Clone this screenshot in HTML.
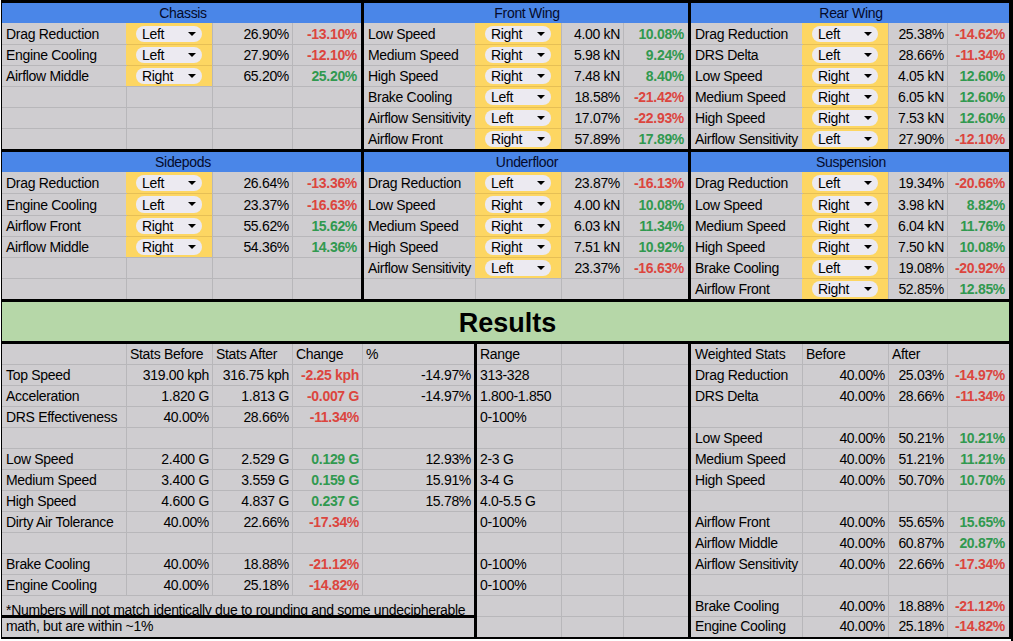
<!DOCTYPE html><html><head><meta charset="utf-8"><style>
*{margin:0;padding:0;box-sizing:border-box}
html,body{width:1013px;height:641px;overflow:hidden;background:#fff}
body{position:relative;font-family:"Liberation Sans", sans-serif;font-size:14px;letter-spacing:-0.31px;color:#000}
.r{position:absolute}
.t{position:absolute;line-height:15px;white-space:nowrap}
.note{position:absolute;line-height:15px;white-space:nowrap;overflow:hidden}
.chip{position:absolute;width:66px;height:16px;border-radius:8px;background:#eceaf1}
.chip span{position:absolute;left:6px;top:1px;line-height:15px}
.chip i{position:absolute;left:52px;top:6px;width:0;height:0;border-left:4px solid transparent;border-right:4px solid transparent;border-top:4.5px solid #000}
</style></head><body>
<div class="r" style="left:2px;top:3px;width:1007px;height:634px;background:#cfcdd0"></div>
<div class="r" style="left:2px;top:3px;width:359px;height:20px;background:#4a86e8"></div>
<div class="t" style="top:6px;color:#050a2a;left:-17px;width:400px;text-align:center;">Chassis</div>
<div class="r" style="left:127px;top:23px;width:85px;height:21px;background:#fdd662"></div>
<div class="r" style="left:127px;top:45px;width:85px;height:20px;background:#fdd662"></div>
<div class="r" style="left:127px;top:66px;width:85px;height:20px;background:#fdd662"></div>
<div class="r" style="left:2px;top:44px;width:359px;height:1px;background:#b8b7ba"></div>
<div class="r" style="left:126px;top:44px;width:86px;height:1px;background:#e6bf55"></div>
<div class="r" style="left:2px;top:65px;width:359px;height:1px;background:#b8b7ba"></div>
<div class="r" style="left:126px;top:65px;width:86px;height:1px;background:#e6bf55"></div>
<div class="r" style="left:2px;top:86px;width:359px;height:1px;background:#b8b7ba"></div>
<div class="r" style="left:2px;top:107px;width:359px;height:1px;background:#b8b7ba"></div>
<div class="r" style="left:2px;top:128px;width:359px;height:1px;background:#b8b7ba"></div>
<div class="r" style="left:126px;top:23px;width:1px;height:126px;background:#b8b7ba"></div>
<div class="r" style="left:212px;top:23px;width:1px;height:126px;background:#b8b7ba"></div>
<div class="r" style="left:292px;top:23px;width:1px;height:126px;background:#b8b7ba"></div>
<div class="r" style="left:126px;top:23px;width:1px;height:21px;background:#fdd662"></div>
<div class="r" style="left:126px;top:45px;width:1px;height:20px;background:#fdd662"></div>
<div class="r" style="left:126px;top:66px;width:1px;height:20px;background:#fdd662"></div>
<div class="t" style="top:27px;color:#000;left:6px;">Drag Reduction</div>
<div class="chip" style="left:136px;top:26px;height:16px"><i style="top:5.7px"></i></div>
<div class="t" style="top:27px;color:#000;left:142px;">Left</div>
<div class="t" style="top:27px;color:#000;right:724px;">26.90%</div>
<div class="t" style="top:27px;color:#dc453e;font-weight:bold;right:656px;">-13.10%</div>
<div class="t" style="top:48px;color:#000;left:6px;">Engine Cooling</div>
<div class="chip" style="left:136px;top:47px;height:16px"><i style="top:5.7px"></i></div>
<div class="t" style="top:48px;color:#000;left:142px;">Left</div>
<div class="t" style="top:48px;color:#000;right:724px;">27.90%</div>
<div class="t" style="top:48px;color:#dc453e;font-weight:bold;right:656px;">-12.10%</div>
<div class="t" style="top:69px;color:#000;left:6px;">Airflow Middle</div>
<div class="chip" style="left:136px;top:68px;height:16px"><i style="top:5.7px"></i></div>
<div class="t" style="top:69px;color:#000;left:142px;">Right</div>
<div class="t" style="top:69px;color:#000;right:724px;">65.20%</div>
<div class="t" style="top:69px;color:#31994f;font-weight:bold;right:656px;">25.20%</div>
<div class="r" style="left:364px;top:3px;width:324px;height:20px;background:#4a86e8"></div>
<div class="t" style="top:6px;color:#050a2a;left:327px;width:400px;text-align:center;">Front Wing</div>
<div class="r" style="left:476px;top:23px;width:85px;height:21px;background:#fdd662"></div>
<div class="r" style="left:476px;top:45px;width:85px;height:20px;background:#fdd662"></div>
<div class="r" style="left:476px;top:66px;width:85px;height:20px;background:#fdd662"></div>
<div class="r" style="left:476px;top:87px;width:85px;height:20px;background:#fdd662"></div>
<div class="r" style="left:476px;top:108px;width:85px;height:20px;background:#fdd662"></div>
<div class="r" style="left:476px;top:129px;width:85px;height:20px;background:#fdd662"></div>
<div class="r" style="left:364px;top:44px;width:324px;height:1px;background:#b8b7ba"></div>
<div class="r" style="left:475px;top:44px;width:86px;height:1px;background:#e6bf55"></div>
<div class="r" style="left:364px;top:65px;width:324px;height:1px;background:#b8b7ba"></div>
<div class="r" style="left:475px;top:65px;width:86px;height:1px;background:#e6bf55"></div>
<div class="r" style="left:364px;top:86px;width:324px;height:1px;background:#b8b7ba"></div>
<div class="r" style="left:475px;top:86px;width:86px;height:1px;background:#e6bf55"></div>
<div class="r" style="left:364px;top:107px;width:324px;height:1px;background:#b8b7ba"></div>
<div class="r" style="left:475px;top:107px;width:86px;height:1px;background:#e6bf55"></div>
<div class="r" style="left:364px;top:128px;width:324px;height:1px;background:#b8b7ba"></div>
<div class="r" style="left:475px;top:128px;width:86px;height:1px;background:#e6bf55"></div>
<div class="r" style="left:475px;top:23px;width:1px;height:126px;background:#b8b7ba"></div>
<div class="r" style="left:561px;top:23px;width:1px;height:126px;background:#b8b7ba"></div>
<div class="r" style="left:623px;top:23px;width:1px;height:126px;background:#b8b7ba"></div>
<div class="r" style="left:475px;top:23px;width:1px;height:21px;background:#fdd662"></div>
<div class="r" style="left:475px;top:45px;width:1px;height:20px;background:#fdd662"></div>
<div class="r" style="left:475px;top:66px;width:1px;height:20px;background:#fdd662"></div>
<div class="r" style="left:475px;top:87px;width:1px;height:20px;background:#fdd662"></div>
<div class="r" style="left:475px;top:108px;width:1px;height:20px;background:#fdd662"></div>
<div class="r" style="left:475px;top:129px;width:1px;height:20px;background:#fdd662"></div>
<div class="t" style="top:27px;color:#000;left:368px;">Low Speed</div>
<div class="chip" style="left:485px;top:26px;height:16px"><i style="top:5.7px"></i></div>
<div class="t" style="top:27px;color:#000;left:491px;">Right</div>
<div class="t" style="top:27px;color:#000;right:393px;">4.00 kN</div>
<div class="t" style="top:27px;color:#31994f;font-weight:bold;right:329px;">10.08%</div>
<div class="t" style="top:48px;color:#000;left:368px;">Medium Speed</div>
<div class="chip" style="left:485px;top:47px;height:16px"><i style="top:5.7px"></i></div>
<div class="t" style="top:48px;color:#000;left:491px;">Right</div>
<div class="t" style="top:48px;color:#000;right:393px;">5.98 kN</div>
<div class="t" style="top:48px;color:#31994f;font-weight:bold;right:329px;">9.24%</div>
<div class="t" style="top:69px;color:#000;left:368px;">High Speed</div>
<div class="chip" style="left:485px;top:68px;height:16px"><i style="top:5.7px"></i></div>
<div class="t" style="top:69px;color:#000;left:491px;">Right</div>
<div class="t" style="top:69px;color:#000;right:393px;">7.48 kN</div>
<div class="t" style="top:69px;color:#31994f;font-weight:bold;right:329px;">8.40%</div>
<div class="t" style="top:90px;color:#000;left:368px;">Brake Cooling</div>
<div class="chip" style="left:485px;top:89px;height:16px"><i style="top:5.7px"></i></div>
<div class="t" style="top:90px;color:#000;left:491px;">Left</div>
<div class="t" style="top:90px;color:#000;right:393px;">18.58%</div>
<div class="t" style="top:90px;color:#dc453e;font-weight:bold;right:329px;">-21.42%</div>
<div class="t" style="top:111px;color:#000;left:368px;">Airflow Sensitivity</div>
<div class="chip" style="left:485px;top:110px;height:16px"><i style="top:5.7px"></i></div>
<div class="t" style="top:111px;color:#000;left:491px;">Left</div>
<div class="t" style="top:111px;color:#000;right:393px;">17.07%</div>
<div class="t" style="top:111px;color:#dc453e;font-weight:bold;right:329px;">-22.93%</div>
<div class="t" style="top:132px;color:#000;left:368px;">Airflow Front</div>
<div class="chip" style="left:485px;top:131px;height:16px"><i style="top:5.7px"></i></div>
<div class="t" style="top:132px;color:#000;left:491px;">Right</div>
<div class="t" style="top:132px;color:#000;right:393px;">57.89%</div>
<div class="t" style="top:132px;color:#31994f;font-weight:bold;right:329px;">17.89%</div>
<div class="r" style="left:691px;top:3px;width:318px;height:20px;background:#4a86e8"></div>
<div class="t" style="top:6px;color:#050a2a;left:651px;width:400px;text-align:center;">Rear Wing</div>
<div class="r" style="left:803px;top:23px;width:85px;height:21px;background:#fdd662"></div>
<div class="r" style="left:803px;top:45px;width:85px;height:20px;background:#fdd662"></div>
<div class="r" style="left:803px;top:66px;width:85px;height:20px;background:#fdd662"></div>
<div class="r" style="left:803px;top:87px;width:85px;height:20px;background:#fdd662"></div>
<div class="r" style="left:803px;top:108px;width:85px;height:20px;background:#fdd662"></div>
<div class="r" style="left:803px;top:129px;width:85px;height:20px;background:#fdd662"></div>
<div class="r" style="left:691px;top:44px;width:318px;height:1px;background:#b8b7ba"></div>
<div class="r" style="left:802px;top:44px;width:86px;height:1px;background:#e6bf55"></div>
<div class="r" style="left:691px;top:65px;width:318px;height:1px;background:#b8b7ba"></div>
<div class="r" style="left:802px;top:65px;width:86px;height:1px;background:#e6bf55"></div>
<div class="r" style="left:691px;top:86px;width:318px;height:1px;background:#b8b7ba"></div>
<div class="r" style="left:802px;top:86px;width:86px;height:1px;background:#e6bf55"></div>
<div class="r" style="left:691px;top:107px;width:318px;height:1px;background:#b8b7ba"></div>
<div class="r" style="left:802px;top:107px;width:86px;height:1px;background:#e6bf55"></div>
<div class="r" style="left:691px;top:128px;width:318px;height:1px;background:#b8b7ba"></div>
<div class="r" style="left:802px;top:128px;width:86px;height:1px;background:#e6bf55"></div>
<div class="r" style="left:802px;top:23px;width:1px;height:126px;background:#b8b7ba"></div>
<div class="r" style="left:888px;top:23px;width:1px;height:126px;background:#b8b7ba"></div>
<div class="r" style="left:947px;top:23px;width:1px;height:126px;background:#b8b7ba"></div>
<div class="r" style="left:802px;top:23px;width:1px;height:21px;background:#fdd662"></div>
<div class="r" style="left:802px;top:45px;width:1px;height:20px;background:#fdd662"></div>
<div class="r" style="left:802px;top:66px;width:1px;height:20px;background:#fdd662"></div>
<div class="r" style="left:802px;top:87px;width:1px;height:20px;background:#fdd662"></div>
<div class="r" style="left:802px;top:108px;width:1px;height:20px;background:#fdd662"></div>
<div class="r" style="left:802px;top:129px;width:1px;height:20px;background:#fdd662"></div>
<div class="t" style="top:27px;color:#000;left:695px;">Drag Reduction</div>
<div class="chip" style="left:812px;top:26px;height:16px"><i style="top:5.7px"></i></div>
<div class="t" style="top:27px;color:#000;left:818px;">Left</div>
<div class="t" style="top:27px;color:#000;right:69px;">25.38%</div>
<div class="t" style="top:27px;color:#dc453e;font-weight:bold;right:8px;">-14.62%</div>
<div class="t" style="top:48px;color:#000;left:695px;">DRS Delta</div>
<div class="chip" style="left:812px;top:47px;height:16px"><i style="top:5.7px"></i></div>
<div class="t" style="top:48px;color:#000;left:818px;">Left</div>
<div class="t" style="top:48px;color:#000;right:69px;">28.66%</div>
<div class="t" style="top:48px;color:#dc453e;font-weight:bold;right:8px;">-11.34%</div>
<div class="t" style="top:69px;color:#000;left:695px;">Low Speed</div>
<div class="chip" style="left:812px;top:68px;height:16px"><i style="top:5.7px"></i></div>
<div class="t" style="top:69px;color:#000;left:818px;">Right</div>
<div class="t" style="top:69px;color:#000;right:69px;">4.05 kN</div>
<div class="t" style="top:69px;color:#31994f;font-weight:bold;right:8px;">12.60%</div>
<div class="t" style="top:90px;color:#000;left:695px;">Medium Speed</div>
<div class="chip" style="left:812px;top:89px;height:16px"><i style="top:5.7px"></i></div>
<div class="t" style="top:90px;color:#000;left:818px;">Right</div>
<div class="t" style="top:90px;color:#000;right:69px;">6.05 kN</div>
<div class="t" style="top:90px;color:#31994f;font-weight:bold;right:8px;">12.60%</div>
<div class="t" style="top:111px;color:#000;left:695px;">High Speed</div>
<div class="chip" style="left:812px;top:110px;height:16px"><i style="top:5.7px"></i></div>
<div class="t" style="top:111px;color:#000;left:818px;">Right</div>
<div class="t" style="top:111px;color:#000;right:69px;">7.53 kN</div>
<div class="t" style="top:111px;color:#31994f;font-weight:bold;right:8px;">12.60%</div>
<div class="t" style="top:132px;color:#000;left:695px;">Airflow Sensitivity</div>
<div class="chip" style="left:812px;top:131px;height:16px"><i style="top:5.7px"></i></div>
<div class="t" style="top:132px;color:#000;left:818px;">Left</div>
<div class="t" style="top:132px;color:#000;right:69px;">27.90%</div>
<div class="t" style="top:132px;color:#dc453e;font-weight:bold;right:8px;">-12.10%</div>
<div class="r" style="left:2px;top:152px;width:359px;height:20px;background:#4a86e8"></div>
<div class="t" style="top:155px;color:#050a2a;left:-17px;width:400px;text-align:center;">Sidepods</div>
<div class="r" style="left:127px;top:172px;width:85px;height:21px;background:#fdd662"></div>
<div class="r" style="left:127px;top:194px;width:85px;height:21px;background:#fdd662"></div>
<div class="r" style="left:127px;top:216px;width:85px;height:20px;background:#fdd662"></div>
<div class="r" style="left:127px;top:237px;width:85px;height:20px;background:#fdd662"></div>
<div class="r" style="left:2px;top:193px;width:359px;height:1px;background:#b8b7ba"></div>
<div class="r" style="left:126px;top:193px;width:86px;height:1px;background:#e6bf55"></div>
<div class="r" style="left:2px;top:215px;width:359px;height:1px;background:#b8b7ba"></div>
<div class="r" style="left:126px;top:215px;width:86px;height:1px;background:#e6bf55"></div>
<div class="r" style="left:2px;top:236px;width:359px;height:1px;background:#b8b7ba"></div>
<div class="r" style="left:126px;top:236px;width:86px;height:1px;background:#e6bf55"></div>
<div class="r" style="left:2px;top:257px;width:359px;height:1px;background:#b8b7ba"></div>
<div class="r" style="left:2px;top:278px;width:359px;height:1px;background:#b8b7ba"></div>
<div class="r" style="left:126px;top:172px;width:1px;height:127px;background:#b8b7ba"></div>
<div class="r" style="left:212px;top:172px;width:1px;height:127px;background:#b8b7ba"></div>
<div class="r" style="left:292px;top:172px;width:1px;height:127px;background:#b8b7ba"></div>
<div class="r" style="left:126px;top:172px;width:1px;height:21px;background:#fdd662"></div>
<div class="r" style="left:126px;top:194px;width:1px;height:21px;background:#fdd662"></div>
<div class="r" style="left:126px;top:216px;width:1px;height:20px;background:#fdd662"></div>
<div class="r" style="left:126px;top:237px;width:1px;height:20px;background:#fdd662"></div>
<div class="t" style="top:176px;color:#000;left:6px;">Drag Reduction</div>
<div class="chip" style="left:136px;top:175px;height:16px"><i style="top:5.7px"></i></div>
<div class="t" style="top:176px;color:#000;left:142px;">Left</div>
<div class="t" style="top:176px;color:#000;right:724px;">26.64%</div>
<div class="t" style="top:176px;color:#dc453e;font-weight:bold;right:656px;">-13.36%</div>
<div class="t" style="top:198px;color:#000;left:6px;">Engine Cooling</div>
<div class="chip" style="left:136px;top:196px;height:17px"><i style="top:6.2px"></i></div>
<div class="t" style="top:198px;color:#000;left:142px;">Left</div>
<div class="t" style="top:198px;color:#000;right:724px;">23.37%</div>
<div class="t" style="top:198px;color:#dc453e;font-weight:bold;right:656px;">-16.63%</div>
<div class="t" style="top:219px;color:#000;left:6px;">Airflow Front</div>
<div class="chip" style="left:136px;top:218px;height:16px"><i style="top:5.7px"></i></div>
<div class="t" style="top:219px;color:#000;left:142px;">Right</div>
<div class="t" style="top:219px;color:#000;right:724px;">55.62%</div>
<div class="t" style="top:219px;color:#31994f;font-weight:bold;right:656px;">15.62%</div>
<div class="t" style="top:240px;color:#000;left:6px;">Airflow Middle</div>
<div class="chip" style="left:136px;top:239px;height:16px"><i style="top:5.7px"></i></div>
<div class="t" style="top:240px;color:#000;left:142px;">Right</div>
<div class="t" style="top:240px;color:#000;right:724px;">54.36%</div>
<div class="t" style="top:240px;color:#31994f;font-weight:bold;right:656px;">14.36%</div>
<div class="r" style="left:364px;top:152px;width:324px;height:20px;background:#4a86e8"></div>
<div class="t" style="top:155px;color:#050a2a;left:327px;width:400px;text-align:center;">Underfloor</div>
<div class="r" style="left:476px;top:172px;width:85px;height:21px;background:#fdd662"></div>
<div class="r" style="left:476px;top:194px;width:85px;height:21px;background:#fdd662"></div>
<div class="r" style="left:476px;top:216px;width:85px;height:20px;background:#fdd662"></div>
<div class="r" style="left:476px;top:237px;width:85px;height:20px;background:#fdd662"></div>
<div class="r" style="left:476px;top:258px;width:85px;height:20px;background:#fdd662"></div>
<div class="r" style="left:364px;top:193px;width:324px;height:1px;background:#b8b7ba"></div>
<div class="r" style="left:475px;top:193px;width:86px;height:1px;background:#e6bf55"></div>
<div class="r" style="left:364px;top:215px;width:324px;height:1px;background:#b8b7ba"></div>
<div class="r" style="left:475px;top:215px;width:86px;height:1px;background:#e6bf55"></div>
<div class="r" style="left:364px;top:236px;width:324px;height:1px;background:#b8b7ba"></div>
<div class="r" style="left:475px;top:236px;width:86px;height:1px;background:#e6bf55"></div>
<div class="r" style="left:364px;top:257px;width:324px;height:1px;background:#b8b7ba"></div>
<div class="r" style="left:475px;top:257px;width:86px;height:1px;background:#e6bf55"></div>
<div class="r" style="left:364px;top:278px;width:324px;height:1px;background:#b8b7ba"></div>
<div class="r" style="left:475px;top:172px;width:1px;height:127px;background:#b8b7ba"></div>
<div class="r" style="left:561px;top:172px;width:1px;height:127px;background:#b8b7ba"></div>
<div class="r" style="left:623px;top:172px;width:1px;height:127px;background:#b8b7ba"></div>
<div class="r" style="left:475px;top:172px;width:1px;height:21px;background:#fdd662"></div>
<div class="r" style="left:475px;top:194px;width:1px;height:21px;background:#fdd662"></div>
<div class="r" style="left:475px;top:216px;width:1px;height:20px;background:#fdd662"></div>
<div class="r" style="left:475px;top:237px;width:1px;height:20px;background:#fdd662"></div>
<div class="r" style="left:475px;top:258px;width:1px;height:20px;background:#fdd662"></div>
<div class="t" style="top:176px;color:#000;left:368px;">Drag Reduction</div>
<div class="chip" style="left:485px;top:175px;height:16px"><i style="top:5.7px"></i></div>
<div class="t" style="top:176px;color:#000;left:491px;">Left</div>
<div class="t" style="top:176px;color:#000;right:393px;">23.87%</div>
<div class="t" style="top:176px;color:#dc453e;font-weight:bold;right:329px;">-16.13%</div>
<div class="t" style="top:198px;color:#000;left:368px;">Low Speed</div>
<div class="chip" style="left:485px;top:196px;height:17px"><i style="top:6.2px"></i></div>
<div class="t" style="top:198px;color:#000;left:491px;">Right</div>
<div class="t" style="top:198px;color:#000;right:393px;">4.00 kN</div>
<div class="t" style="top:198px;color:#31994f;font-weight:bold;right:329px;">10.08%</div>
<div class="t" style="top:219px;color:#000;left:368px;">Medium Speed</div>
<div class="chip" style="left:485px;top:218px;height:16px"><i style="top:5.7px"></i></div>
<div class="t" style="top:219px;color:#000;left:491px;">Right</div>
<div class="t" style="top:219px;color:#000;right:393px;">6.03 kN</div>
<div class="t" style="top:219px;color:#31994f;font-weight:bold;right:329px;">11.34%</div>
<div class="t" style="top:240px;color:#000;left:368px;">High Speed</div>
<div class="chip" style="left:485px;top:239px;height:16px"><i style="top:5.7px"></i></div>
<div class="t" style="top:240px;color:#000;left:491px;">Right</div>
<div class="t" style="top:240px;color:#000;right:393px;">7.51 kN</div>
<div class="t" style="top:240px;color:#31994f;font-weight:bold;right:329px;">10.92%</div>
<div class="t" style="top:261px;color:#000;left:368px;">Airflow Sensitivity</div>
<div class="chip" style="left:485px;top:260px;height:16px"><i style="top:5.7px"></i></div>
<div class="t" style="top:261px;color:#000;left:491px;">Left</div>
<div class="t" style="top:261px;color:#000;right:393px;">23.37%</div>
<div class="t" style="top:261px;color:#dc453e;font-weight:bold;right:329px;">-16.63%</div>
<div class="r" style="left:691px;top:152px;width:318px;height:20px;background:#4a86e8"></div>
<div class="t" style="top:155px;color:#050a2a;left:651px;width:400px;text-align:center;">Suspension</div>
<div class="r" style="left:803px;top:172px;width:85px;height:21px;background:#fdd662"></div>
<div class="r" style="left:803px;top:194px;width:85px;height:21px;background:#fdd662"></div>
<div class="r" style="left:803px;top:216px;width:85px;height:20px;background:#fdd662"></div>
<div class="r" style="left:803px;top:237px;width:85px;height:20px;background:#fdd662"></div>
<div class="r" style="left:803px;top:258px;width:85px;height:20px;background:#fdd662"></div>
<div class="r" style="left:803px;top:279px;width:85px;height:20px;background:#fdd662"></div>
<div class="r" style="left:691px;top:193px;width:318px;height:1px;background:#b8b7ba"></div>
<div class="r" style="left:802px;top:193px;width:86px;height:1px;background:#e6bf55"></div>
<div class="r" style="left:691px;top:215px;width:318px;height:1px;background:#b8b7ba"></div>
<div class="r" style="left:802px;top:215px;width:86px;height:1px;background:#e6bf55"></div>
<div class="r" style="left:691px;top:236px;width:318px;height:1px;background:#b8b7ba"></div>
<div class="r" style="left:802px;top:236px;width:86px;height:1px;background:#e6bf55"></div>
<div class="r" style="left:691px;top:257px;width:318px;height:1px;background:#b8b7ba"></div>
<div class="r" style="left:802px;top:257px;width:86px;height:1px;background:#e6bf55"></div>
<div class="r" style="left:691px;top:278px;width:318px;height:1px;background:#b8b7ba"></div>
<div class="r" style="left:802px;top:278px;width:86px;height:1px;background:#e6bf55"></div>
<div class="r" style="left:802px;top:172px;width:1px;height:127px;background:#b8b7ba"></div>
<div class="r" style="left:888px;top:172px;width:1px;height:127px;background:#b8b7ba"></div>
<div class="r" style="left:947px;top:172px;width:1px;height:127px;background:#b8b7ba"></div>
<div class="r" style="left:802px;top:172px;width:1px;height:21px;background:#fdd662"></div>
<div class="r" style="left:802px;top:194px;width:1px;height:21px;background:#fdd662"></div>
<div class="r" style="left:802px;top:216px;width:1px;height:20px;background:#fdd662"></div>
<div class="r" style="left:802px;top:237px;width:1px;height:20px;background:#fdd662"></div>
<div class="r" style="left:802px;top:258px;width:1px;height:20px;background:#fdd662"></div>
<div class="r" style="left:802px;top:279px;width:1px;height:20px;background:#fdd662"></div>
<div class="t" style="top:176px;color:#000;left:695px;">Drag Reduction</div>
<div class="chip" style="left:812px;top:175px;height:16px"><i style="top:5.7px"></i></div>
<div class="t" style="top:176px;color:#000;left:818px;">Left</div>
<div class="t" style="top:176px;color:#000;right:69px;">19.34%</div>
<div class="t" style="top:176px;color:#dc453e;font-weight:bold;right:8px;">-20.66%</div>
<div class="t" style="top:198px;color:#000;left:695px;">Low Speed</div>
<div class="chip" style="left:812px;top:196px;height:17px"><i style="top:6.2px"></i></div>
<div class="t" style="top:198px;color:#000;left:818px;">Right</div>
<div class="t" style="top:198px;color:#000;right:69px;">3.98 kN</div>
<div class="t" style="top:198px;color:#31994f;font-weight:bold;right:8px;">8.82%</div>
<div class="t" style="top:219px;color:#000;left:695px;">Medium Speed</div>
<div class="chip" style="left:812px;top:218px;height:16px"><i style="top:5.7px"></i></div>
<div class="t" style="top:219px;color:#000;left:818px;">Right</div>
<div class="t" style="top:219px;color:#000;right:69px;">6.04 kN</div>
<div class="t" style="top:219px;color:#31994f;font-weight:bold;right:8px;">11.76%</div>
<div class="t" style="top:240px;color:#000;left:695px;">High Speed</div>
<div class="chip" style="left:812px;top:239px;height:16px"><i style="top:5.7px"></i></div>
<div class="t" style="top:240px;color:#000;left:818px;">Right</div>
<div class="t" style="top:240px;color:#000;right:69px;">7.50 kN</div>
<div class="t" style="top:240px;color:#31994f;font-weight:bold;right:8px;">10.08%</div>
<div class="t" style="top:261px;color:#000;left:695px;">Brake Cooling</div>
<div class="chip" style="left:812px;top:260px;height:16px"><i style="top:5.7px"></i></div>
<div class="t" style="top:261px;color:#000;left:818px;">Left</div>
<div class="t" style="top:261px;color:#000;right:69px;">19.08%</div>
<div class="t" style="top:261px;color:#dc453e;font-weight:bold;right:8px;">-20.92%</div>
<div class="t" style="top:282px;color:#000;left:695px;">Airflow Front</div>
<div class="chip" style="left:812px;top:281px;height:16px"><i style="top:5.7px"></i></div>
<div class="t" style="top:282px;color:#000;left:818px;">Right</div>
<div class="t" style="top:282px;color:#000;right:69px;">52.85%</div>
<div class="t" style="top:282px;color:#31994f;font-weight:bold;right:8px;">12.85%</div>
<div class="r" style="left:2px;top:302px;width:1007px;height:39px;background:#b6d7a8"></div>
<div class="t" style="left:4px;width:1007px;top:308px;text-align:center;font-weight:bold;font-size:27px;letter-spacing:0;line-height:30px">Results</div>
<div class="r" style="left:2px;top:364px;width:1007px;height:1px;background:#b8b7ba"></div>
<div class="r" style="left:2px;top:385px;width:1007px;height:1px;background:#b8b7ba"></div>
<div class="r" style="left:2px;top:406px;width:1007px;height:1px;background:#b8b7ba"></div>
<div class="r" style="left:2px;top:427px;width:1007px;height:1px;background:#b8b7ba"></div>
<div class="r" style="left:2px;top:448px;width:1007px;height:1px;background:#b8b7ba"></div>
<div class="r" style="left:2px;top:469px;width:1007px;height:1px;background:#b8b7ba"></div>
<div class="r" style="left:2px;top:490px;width:1007px;height:1px;background:#b8b7ba"></div>
<div class="r" style="left:2px;top:511px;width:1007px;height:1px;background:#b8b7ba"></div>
<div class="r" style="left:2px;top:532px;width:1007px;height:1px;background:#b8b7ba"></div>
<div class="r" style="left:2px;top:553px;width:1007px;height:1px;background:#b8b7ba"></div>
<div class="r" style="left:2px;top:574px;width:1007px;height:1px;background:#b8b7ba"></div>
<div class="r" style="left:2px;top:595px;width:1007px;height:1px;background:#b8b7ba"></div>
<div class="r" style="left:477px;top:616px;width:532px;height:1px;background:#b8b7ba"></div>
<div class="r" style="left:126px;top:344px;width:1px;height:252px;background:#b8b7ba"></div>
<div class="r" style="left:212px;top:344px;width:1px;height:252px;background:#b8b7ba"></div>
<div class="r" style="left:292px;top:344px;width:1px;height:252px;background:#b8b7ba"></div>
<div class="r" style="left:362px;top:344px;width:1px;height:252px;background:#b8b7ba"></div>
<div class="r" style="left:561px;top:344px;width:1px;height:293px;background:#b8b7ba"></div>
<div class="r" style="left:623px;top:344px;width:1px;height:293px;background:#b8b7ba"></div>
<div class="r" style="left:802px;top:344px;width:1px;height:293px;background:#b8b7ba"></div>
<div class="r" style="left:888px;top:344px;width:1px;height:293px;background:#b8b7ba"></div>
<div class="r" style="left:947px;top:344px;width:1px;height:293px;background:#b8b7ba"></div>
<div class="t" style="top:347px;color:#000;left:130px;">Stats Before</div>
<div class="t" style="top:347px;color:#000;left:216px;">Stats After</div>
<div class="t" style="top:347px;color:#000;left:296px;">Change</div>
<div class="t" style="top:347px;color:#000;left:366px;">%</div>
<div class="t" style="top:368px;color:#000;left:6px;">Top Speed</div>
<div class="t" style="top:368px;color:#000;right:804px;">319.00 kph</div>
<div class="t" style="top:368px;color:#000;right:724px;">316.75 kph</div>
<div class="t" style="top:368px;color:#dc453e;font-weight:bold;right:654px;">-2.25 kph</div>
<div class="t" style="top:368px;color:#000;right:542px;">-14.97%</div>
<div class="t" style="top:389px;color:#000;left:6px;">Acceleration</div>
<div class="t" style="top:389px;color:#000;right:804px;">1.820 G</div>
<div class="t" style="top:389px;color:#000;right:724px;">1.813 G</div>
<div class="t" style="top:389px;color:#dc453e;font-weight:bold;right:654px;">-0.007 G</div>
<div class="t" style="top:389px;color:#000;right:542px;">-14.97%</div>
<div class="t" style="top:410px;color:#000;left:6px;">DRS Effectiveness</div>
<div class="t" style="top:410px;color:#000;right:804px;">40.00%</div>
<div class="t" style="top:410px;color:#000;right:724px;">28.66%</div>
<div class="t" style="top:410px;color:#dc453e;font-weight:bold;right:654px;">-11.34%</div>
<div class="t" style="top:431px;color:#000;left:6px;"></div>
<div class="t" style="top:431px;color:#000;right:804px;"></div>
<div class="t" style="top:431px;color:#000;right:724px;"></div>
<div class="t" style="top:452px;color:#000;left:6px;">Low Speed</div>
<div class="t" style="top:452px;color:#000;right:804px;">2.400 G</div>
<div class="t" style="top:452px;color:#000;right:724px;">2.529 G</div>
<div class="t" style="top:452px;color:#31994f;font-weight:bold;right:654px;">0.129 G</div>
<div class="t" style="top:452px;color:#000;right:542px;">12.93%</div>
<div class="t" style="top:473px;color:#000;left:6px;">Medium Speed</div>
<div class="t" style="top:473px;color:#000;right:804px;">3.400 G</div>
<div class="t" style="top:473px;color:#000;right:724px;">3.559 G</div>
<div class="t" style="top:473px;color:#31994f;font-weight:bold;right:654px;">0.159 G</div>
<div class="t" style="top:473px;color:#000;right:542px;">15.91%</div>
<div class="t" style="top:494px;color:#000;left:6px;">High Speed</div>
<div class="t" style="top:494px;color:#000;right:804px;">4.600 G</div>
<div class="t" style="top:494px;color:#000;right:724px;">4.837 G</div>
<div class="t" style="top:494px;color:#31994f;font-weight:bold;right:654px;">0.237 G</div>
<div class="t" style="top:494px;color:#000;right:542px;">15.78%</div>
<div class="t" style="top:515px;color:#000;left:6px;">Dirty Air Tolerance</div>
<div class="t" style="top:515px;color:#000;right:804px;">40.00%</div>
<div class="t" style="top:515px;color:#000;right:724px;">22.66%</div>
<div class="t" style="top:515px;color:#dc453e;font-weight:bold;right:654px;">-17.34%</div>
<div class="t" style="top:536px;color:#000;left:6px;"></div>
<div class="t" style="top:536px;color:#000;right:804px;"></div>
<div class="t" style="top:536px;color:#000;right:724px;"></div>
<div class="t" style="top:557px;color:#000;left:6px;">Brake Cooling</div>
<div class="t" style="top:557px;color:#000;right:804px;">40.00%</div>
<div class="t" style="top:557px;color:#000;right:724px;">18.88%</div>
<div class="t" style="top:557px;color:#dc453e;font-weight:bold;right:654px;">-21.12%</div>
<div class="t" style="top:578px;color:#000;left:6px;">Engine Cooling</div>
<div class="t" style="top:578px;color:#000;right:804px;">40.00%</div>
<div class="t" style="top:578px;color:#000;right:724px;">25.18%</div>
<div class="t" style="top:578px;color:#dc453e;font-weight:bold;right:654px;">-14.82%</div>
<div class="t" style="top:347px;color:#000;left:480px;">Range</div>
<div class="t" style="top:368px;color:#000;left:480px;">313-328</div>
<div class="t" style="top:389px;color:#000;left:480px;">1.800-1.850</div>
<div class="t" style="top:410px;color:#000;left:480px;">0-100%</div>
<div class="t" style="top:452px;color:#000;left:480px;">2-3 G</div>
<div class="t" style="top:473px;color:#000;left:480px;">3-4 G</div>
<div class="t" style="top:494px;color:#000;left:480px;">4.0-5.5 G</div>
<div class="t" style="top:515px;color:#000;left:480px;">0-100%</div>
<div class="t" style="top:557px;color:#000;left:480px;">0-100%</div>
<div class="t" style="top:578px;color:#000;left:480px;">0-100%</div>
<div class="t" style="top:347px;color:#000;left:695px;">Weighted Stats</div>
<div class="t" style="top:347px;color:#000;left:806px;">Before</div>
<div class="t" style="top:347px;color:#000;left:892px;">After</div>
<div class="t" style="top:368px;color:#000;left:695px;">Drag Reduction</div>
<div class="t" style="top:368px;color:#000;right:128px;">40.00%</div>
<div class="t" style="top:368px;color:#000;right:69px;">25.03%</div>
<div class="t" style="top:368px;color:#dc453e;font-weight:bold;right:8px;">-14.97%</div>
<div class="t" style="top:389px;color:#000;left:695px;">DRS Delta</div>
<div class="t" style="top:389px;color:#000;right:128px;">40.00%</div>
<div class="t" style="top:389px;color:#000;right:69px;">28.66%</div>
<div class="t" style="top:389px;color:#dc453e;font-weight:bold;right:8px;">-11.34%</div>
<div class="t" style="top:431px;color:#000;left:695px;">Low Speed</div>
<div class="t" style="top:431px;color:#000;right:128px;">40.00%</div>
<div class="t" style="top:431px;color:#000;right:69px;">50.21%</div>
<div class="t" style="top:431px;color:#31994f;font-weight:bold;right:8px;">10.21%</div>
<div class="t" style="top:452px;color:#000;left:695px;">Medium Speed</div>
<div class="t" style="top:452px;color:#000;right:128px;">40.00%</div>
<div class="t" style="top:452px;color:#000;right:69px;">51.21%</div>
<div class="t" style="top:452px;color:#31994f;font-weight:bold;right:8px;">11.21%</div>
<div class="t" style="top:473px;color:#000;left:695px;">High Speed</div>
<div class="t" style="top:473px;color:#000;right:128px;">40.00%</div>
<div class="t" style="top:473px;color:#000;right:69px;">50.70%</div>
<div class="t" style="top:473px;color:#31994f;font-weight:bold;right:8px;">10.70%</div>
<div class="t" style="top:515px;color:#000;left:695px;">Airflow Front</div>
<div class="t" style="top:515px;color:#000;right:128px;">40.00%</div>
<div class="t" style="top:515px;color:#000;right:69px;">55.65%</div>
<div class="t" style="top:515px;color:#31994f;font-weight:bold;right:8px;">15.65%</div>
<div class="t" style="top:536px;color:#000;left:695px;">Airflow Middle</div>
<div class="t" style="top:536px;color:#000;right:128px;">40.00%</div>
<div class="t" style="top:536px;color:#000;right:69px;">60.87%</div>
<div class="t" style="top:536px;color:#31994f;font-weight:bold;right:8px;">20.87%</div>
<div class="t" style="top:557px;color:#000;left:695px;">Airflow Sensitivity</div>
<div class="t" style="top:557px;color:#000;right:128px;">40.00%</div>
<div class="t" style="top:557px;color:#000;right:69px;">22.66%</div>
<div class="t" style="top:557px;color:#dc453e;font-weight:bold;right:8px;">-17.34%</div>
<div class="t" style="top:599px;color:#000;left:695px;">Brake Cooling</div>
<div class="t" style="top:599px;color:#000;right:128px;">40.00%</div>
<div class="t" style="top:599px;color:#000;right:69px;">18.88%</div>
<div class="t" style="top:599px;color:#dc453e;font-weight:bold;right:8px;">-21.12%</div>
<div class="t" style="top:619px;color:#000;left:695px;">Engine Cooling</div>
<div class="t" style="top:619px;color:#000;right:128px;">40.00%</div>
<div class="t" style="top:619px;color:#000;right:69px;">25.18%</div>
<div class="t" style="top:619px;color:#dc453e;font-weight:bold;right:8px;">-14.82%</div>
<div class="note" style="left:6px;top:603px;width:470px;height:12px">*Numbers will not match identically due to rounding and some undecipherable</div>
<div class="t" style="top:619px;color:#000;left:6px;">math, but are within ~1%</div>
<div class="r" style="left:1px;top:0px;width:1012px;height:3px;background:#000"></div>
<div class="r" style="left:1px;top:149px;width:1012px;height:3px;background:#000"></div>
<div class="r" style="left:1px;top:299px;width:1012px;height:3px;background:#000"></div>
<div class="r" style="left:1px;top:341px;width:1012px;height:3px;background:#000"></div>
<div class="r" style="left:1px;top:637px;width:1012px;height:2px;background:#000"></div>
<div class="r" style="left:1px;top:615px;width:476px;height:3px;background:#000"></div>
<div class="r" style="left:1px;top:0px;width:1px;height:639px;background:#000"></div>
<div class="r" style="left:361px;top:0px;width:3px;height:302px;background:#000"></div>
<div class="r" style="left:688px;top:0px;width:3px;height:302px;background:#000"></div>
<div class="r" style="left:1009px;top:0px;width:4px;height:302px;background:#000"></div>
<div class="r" style="left:474px;top:344px;width:3px;height:295px;background:#000"></div>
<div class="r" style="left:688px;top:344px;width:3px;height:295px;background:#000"></div>
<div class="r" style="left:1009px;top:302px;width:4px;height:337px;background:#000"></div>
<div class="r" style="left:1011px;top:639px;width:2px;height:2px;background:#000"></div>
</body></html>
